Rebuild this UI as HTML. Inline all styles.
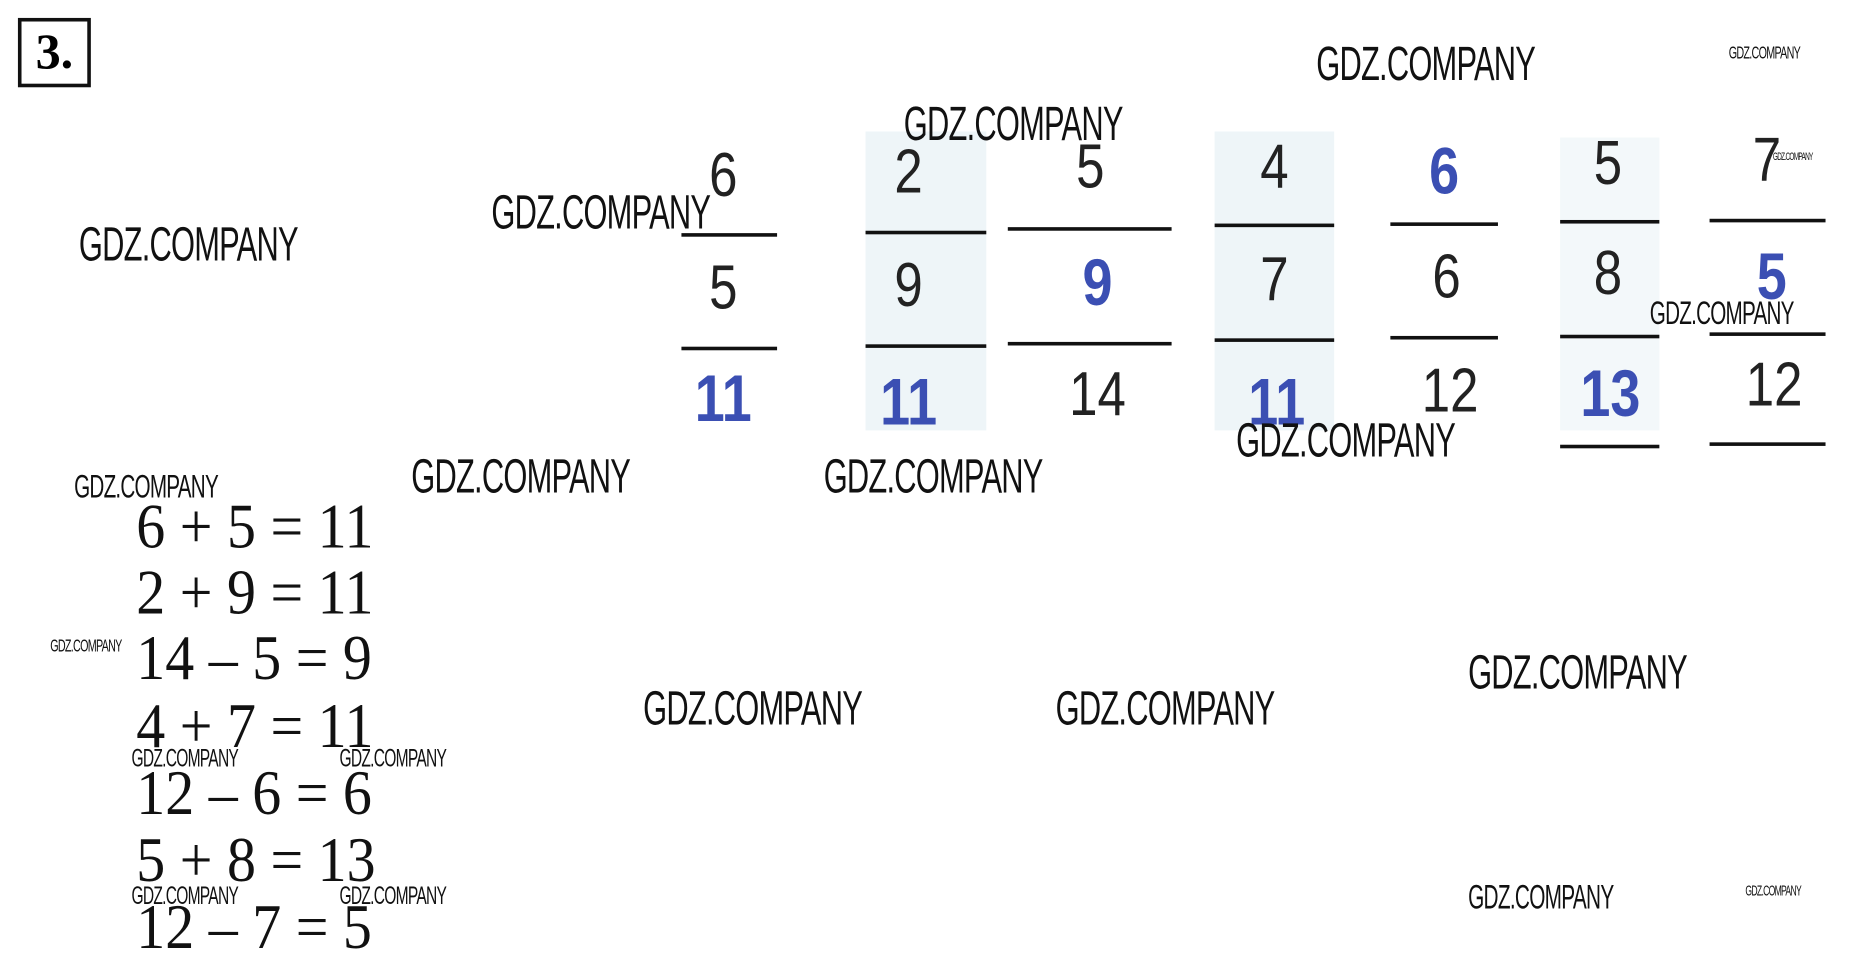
<!DOCTYPE html>
<html><head><meta charset="utf-8"><style>
html,body{margin:0;padding:0;background:#fff;width:1872px;height:959px;overflow:hidden}
#s{position:absolute;left:0;top:0;width:1566px;height:802px;transform:scale(1.1955);transform-origin:0 0}
.a{position:absolute;white-space:nowrap}
.w{position:absolute;white-space:nowrap;font-family:"Liberation Sans",sans-serif;color:#111;transform-origin:0 0;line-height:1;letter-spacing:-1px}
.n{position:absolute;font-family:"Liberation Sans",sans-serif;font-size:52px;line-height:1;color:#222;width:100px;text-align:center;transform:scaleX(0.82)}
.b{color:#3b4fb3;font-weight:bold;font-size:55px}
.l{position:absolute;height:3px;background:#111}
.eq{position:absolute;left:114px;font-family:"Liberation Serif",serif;font-size:53px;line-height:1;color:#111;white-space:nowrap;transform:scaleX(0.915);transform-origin:0 0}
.bg{position:absolute;background:#eef5f8}
</style></head><body><div id="s">
<div class="a" style="left:15px;top:15px;width:55px;height:52px;border:3px solid #111;font-family:'Liberation Serif',serif;font-weight:bold;font-size:42px;line-height:52px;text-align:center">3.</div>

<div class="bg" style="left:724px;top:110px;width:101px;height:250px"></div>
<div class="bg" style="left:1016px;top:110px;width:100px;height:250px"></div>
<div class="bg" style="left:1305px;top:115px;width:83px;height:245px;background:#f3f8fa"></div>

<div class="n" style="left:555px;top:121px">6</div>
<div class="n" style="left:555px;top:215px">5</div>
<div class="n b" style="left:555px;top:306px">11</div>
<div class="n" style="left:710px;top:118px">2</div>
<div class="n" style="left:710px;top:213px">9</div>
<div class="n b" style="left:710px;top:309px">11</div>
<div class="n" style="left:862px;top:114px">5</div>
<div class="n b" style="left:868px;top:209px">9</div>
<div class="n" style="left:868px;top:304px">14</div>
<div class="n" style="left:1016px;top:114px">4</div>
<div class="n b" style="left:1018px;top:309px">11</div>
<div class="n" style="left:1016px;top:208px">7</div>
<div class="n b" style="left:1158px;top:116px">6</div>
<div class="n" style="left:1160px;top:206px">6</div>
<div class="n" style="left:1163px;top:301px">12</div>
<div class="n" style="left:1295px;top:111px">5</div>
<div class="n" style="left:1295px;top:203px">8</div>
<div class="n b" style="left:1297px;top:302px">13</div>
<div class="n" style="left:1428px;top:108px">7</div>
<div class="n b" style="left:1432px;top:204px">5</div>
<div class="n" style="left:1434px;top:296px">12</div>

<div class="l" style="left:570px;top:195px;width:80px"></div>
<div class="l" style="left:570px;top:290px;width:80px"></div>
<div class="l" style="left:724px;top:193px;width:101px"></div>
<div class="l" style="left:724px;top:288px;width:101px"></div>
<div class="l" style="left:843px;top:190px;width:137px"></div>
<div class="l" style="left:843px;top:286px;width:137px"></div>
<div class="l" style="left:1016px;top:187px;width:100px"></div>
<div class="l" style="left:1016px;top:283px;width:100px"></div>
<div class="l" style="left:1163px;top:186px;width:90px"></div>
<div class="l" style="left:1163px;top:281px;width:90px"></div>
<div class="l" style="left:1305px;top:184px;width:83px"></div>
<div class="l" style="left:1305px;top:280px;width:83px"></div>
<div class="l" style="left:1305px;top:372px;width:83px"></div>
<div class="l" style="left:1430px;top:183px;width:97px"></div>
<div class="l" style="left:1430px;top:278px;width:97px"></div>
<div class="l" style="left:1430px;top:370px;width:97px"></div>

<div class="eq" style="top:415px">6 + 5 = 11</div>
<div class="eq" style="top:470px">2 + 9 = 11</div>
<div class="eq" style="top:525px">14 – 5 = 9</div>
<div class="eq" style="top:582px">4 + 7 = 11</div>
<div class="eq" style="top:638px">12 – 6 = 6</div>
<div class="eq" style="top:694px">5 + 8 = 13</div>
<div class="eq" style="top:750px">12 – 7 = 5</div>

<div class="w" style="left:1101px;top:34px;font-size:40px;transform:scaleX(0.645)">GDZ.COMPANY</div>
<div class="w" style="left:756px;top:84px;font-size:40px;transform:scaleX(0.645)">GDZ.COMPANY</div>
<div class="w" style="left:411px;top:158px;font-size:40px;transform:scaleX(0.645)">GDZ.COMPANY</div>
<div class="w" style="left:66px;top:185px;font-size:40px;transform:scaleX(0.645)">GDZ.COMPANY</div>
<div class="w" style="left:344px;top:379px;font-size:40px;transform:scaleX(0.645)">GDZ.COMPANY</div>
<div class="w" style="left:689px;top:379px;font-size:40px;transform:scaleX(0.645)">GDZ.COMPANY</div>
<div class="w" style="left:1034px;top:349px;font-size:40px;transform:scaleX(0.645)">GDZ.COMPANY</div>
<div class="w" style="left:538px;top:573px;font-size:40px;transform:scaleX(0.645)">GDZ.COMPANY</div>
<div class="w" style="left:883px;top:573px;font-size:40px;transform:scaleX(0.645)">GDZ.COMPANY</div>
<div class="w" style="left:1228px;top:543px;font-size:40px;transform:scaleX(0.645)">GDZ.COMPANY</div>
<div class="w" style="left:62px;top:394px;font-size:27px;transform:scaleX(0.64)">GDZ.COMPANY</div>
<div class="w" style="left:1380px;top:249px;font-size:27px;transform:scaleX(0.64)">GDZ.COMPANY</div>
<div class="w" style="left:1228px;top:737px;font-size:29px;transform:scaleX(0.6)">GDZ.COMPANY</div>
<div class="w" style="left:110px;top:624px;font-size:21px;transform:scaleX(0.62)">GDZ.COMPANY</div>
<div class="w" style="left:284px;top:624px;font-size:21px;transform:scaleX(0.62)">GDZ.COMPANY</div>
<div class="w" style="left:110px;top:739px;font-size:21px;transform:scaleX(0.62)">GDZ.COMPANY</div>
<div class="w" style="left:284px;top:739px;font-size:21px;transform:scaleX(0.62)">GDZ.COMPANY</div>
<div class="w" style="left:1446px;top:37px;font-size:15px;transform:scaleX(0.6)">GDZ.COMPANY</div>
<div class="w" style="left:42px;top:533px;font-size:15px;transform:scaleX(0.6)">GDZ.COMPANY</div>
<div class="w" style="left:1460px;top:739px;font-size:12px;transform:scaleX(0.6)">GDZ.COMPANY</div>
<div class="w" style="left:1483px;top:127px;font-size:9px;transform:scaleX(0.6)">GDZ.COMPANY</div>
</div></body></html>
